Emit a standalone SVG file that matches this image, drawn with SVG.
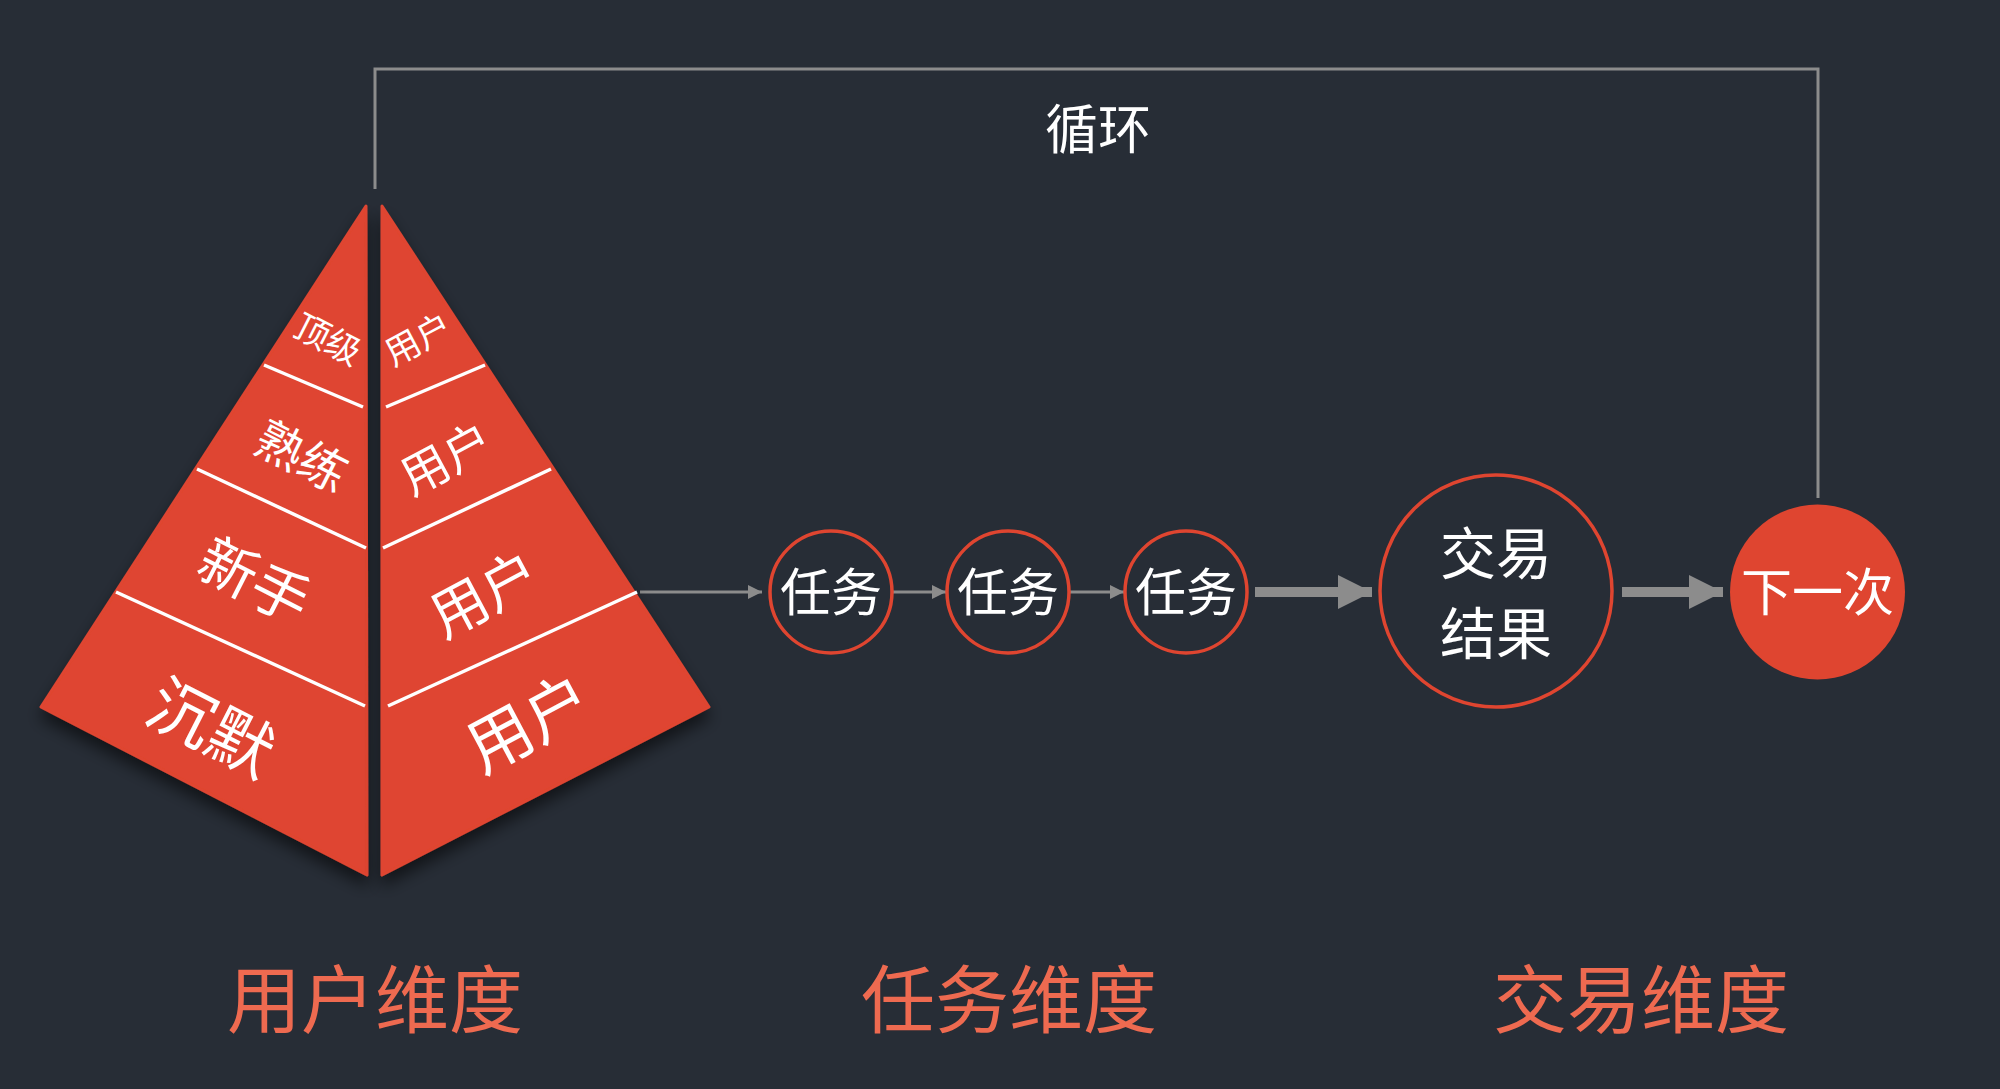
<svg xmlns="http://www.w3.org/2000/svg" width="2000" height="1089" viewBox="0 0 2000 1089">
<defs>
<style>
.bg{fill:#272d36}
.pyr{fill:#df4530;stroke:#df4530;stroke-width:3;stroke-linejoin:round}
.div{stroke:#ffffff;stroke-width:3.5;fill:none}
.wt{fill:#ffffff;font-family:"Noto Sans CJK SC","Noto Sans",sans-serif;text-anchor:middle}
.lbl{fill:#ee6a50;font-family:"Noto Sans CJK SC","Noto Sans",sans-serif;text-anchor:middle;font-size:74px}
.con{stroke:#8c8c8c;stroke-width:3;fill:none}
.big{stroke:#8c8c8c;stroke-width:10;fill:none}
.ring{fill:none;stroke:#df4530;stroke-width:3.5}
</style>
<marker id="ah" markerUnits="userSpaceOnUse" markerWidth="14" markerHeight="14" refX="14" refY="7" orient="auto" viewBox="0 0 14 14">
<path d="M0,0 L14,7 L0,14 Z" fill="#8c8c8c"/>
</marker>
<marker id="ahb" markerUnits="userSpaceOnUse" markerWidth="34" markerHeight="34" refX="34" refY="17" orient="auto" viewBox="0 0 34 34">
<path d="M0,0 L34,17 L0,34 Z" fill="#8c8c8c"/>
</marker>
<filter id="sh" x="-20%" y="-20%" width="140%" height="150%">
<feDropShadow dx="0" dy="10" stdDeviation="8" flood-color="#000000" flood-opacity="0.55"/>
</filter>
</defs>
<rect class="bg" x="0" y="0" width="2000" height="1089"/>

<g id="connectors">
<path class="con" d="M375,189 L375,69 L1818,69 L1818,498"/>
<line class="con" x1="640" y1="592" x2="762" y2="592" marker-end="url(#ah)"/>
<line class="con" x1="892" y1="592" x2="946" y2="592" marker-end="url(#ah)"/>
<line class="con" x1="1070" y1="592" x2="1124" y2="592" marker-end="url(#ah)"/>
<line class="big" x1="1255" y1="592" x2="1372" y2="592" marker-end="url(#ahb)"/>
<line class="big" x1="1622" y1="592" x2="1723" y2="592" marker-end="url(#ahb)"/>
</g>
<text class="wt" x="1098" y="149" font-size="53">循环</text>

<g id="pyramid-left" filter="url(#sh)">
<polygon class="pyr" points="366,206 41,707 367,875"/>
</g>
<g id="pyramid-right" filter="url(#sh)">
<polygon class="pyr" points="382,206 709,707 382,875"/>
</g>
<g id="pyramid-dividers">
<line class="div" x1="264" y1="365" x2="363" y2="407"/>
<line class="div" x1="197" y1="469" x2="366" y2="548"/>
<line class="div" x1="116" y1="592" x2="365" y2="706"/>
<line class="div" x1="485" y1="365" x2="386" y2="407"/>
<line class="div" x1="551" y1="469" x2="383" y2="548"/>
<line class="div" x1="637" y1="592" x2="388" y2="706"/>
</g>
<g id="level-top">
<text class="wt" font-size="35" transform="translate(328,339) rotate(27)" y="13">顶级</text>
<text class="wt" font-size="35" transform="translate(418,339) rotate(-28)" y="13">用户</text>
</g>
<g id="level-skilled">
<text class="wt" font-size="48" transform="translate(302,456) rotate(27)" y="18">熟练</text>
<text class="wt" font-size="48" transform="translate(446,458) rotate(-28)" y="18">用户</text>
</g>
<g id="level-new">
<text class="wt" font-size="58" transform="translate(255,580) rotate(27)" y="22">新手</text>
<text class="wt" font-size="57" transform="translate(484,593) rotate(-28)" y="22">用户</text>
</g>
<g id="level-silent">
<text class="wt" font-size="66" transform="translate(212,727) rotate(27)" y="25">沉默</text>
<text class="wt" font-size="65" transform="translate(528,722) rotate(-28)" y="25">用户</text>
</g>

<g id="task1">
<circle class="ring" cx="831" cy="592" r="61"/>
<text class="wt" x="831" y="611" font-size="51">任务</text>
</g>
<g id="task2">
<circle class="ring" cx="1008" cy="592" r="61"/>
<text class="wt" x="1008" y="611" font-size="51">任务</text>
</g>
<g id="task3">
<circle class="ring" cx="1186" cy="592" r="61"/>
<text class="wt" x="1186" y="611" font-size="51">任务</text>
</g>
<g id="trade-result">
<circle class="ring" cx="1496" cy="591" r="116"/>
<text class="wt" x="1496" y="574" font-size="56">交易</text>
<text class="wt" x="1496" y="654" font-size="56">结果</text>
</g>
<g id="next">
<circle cx="1817.5" cy="592" r="87.5" fill="#df4530"/>
<text class="wt" x="1817.5" y="611" font-size="51">下一次</text>
</g>

<g id="labels">
<text class="lbl" x="375" y="1027">用户维度</text>
<text class="lbl" x="1009" y="1027">任务维度</text>
<text class="lbl" x="1641" y="1027">交易维度</text>
</g>
</svg>
